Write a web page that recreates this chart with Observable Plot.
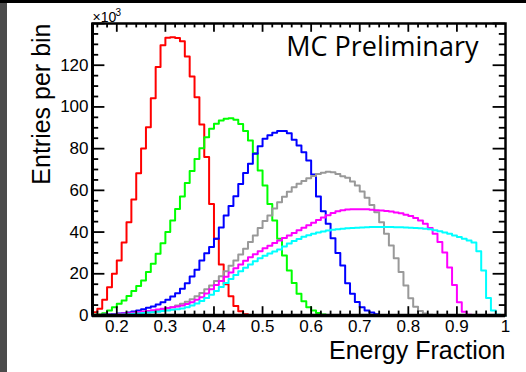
<!DOCTYPE html>
<html><head><meta charset="utf-8">
<script src="https://cdn.jsdelivr.net/npm/d3@7"></script>
<script src="https://cdn.jsdelivr.net/npm/@observablehq/plot@0.6"></script>
<style>
html,body{margin:0;padding:0;background:#fff;}
#wrap{position:relative;width:526px;height:372px;overflow:hidden;background:#fff;}
#topbar{position:absolute;left:0;top:0;width:526px;height:3px;background:#000;}
#leftbar{position:absolute;left:0;top:0;width:7px;height:372px;background:#4b4b4b;}
</style></head><body>
<div id="wrap"><div id="chart"></div><div id="leftbar"></div><div id="topbar"></div></div>
<script>
// histogram binning (x axis: Energy Fraction)
const binLow = 0.15, binWidth = 0.01;

// entries per bin (x10^3), one value per bin starting at 0.15
const histRed = [1.6, 3.2, 7.6, 13.6, 20.0, 26.4, 35.0, 44.7, 55.6, 68.2, 80.1, 90.3, 104.2, 119.2, 129.6, 133.2, 133.4, 133.0, 131.5, 124.2, 114.6, 104.7, 91.6, 76.0, 53.5, 36.8, 24.4, 15.0, 9.2, 4.6, 2.0, 0.6, 0.1];
const histGreen = [0.3, 0.5, 1.1, 2.4, 4.0, 5.6, 7.2, 9.3, 11.7, 14.1, 16.8, 20.8, 24.8, 29.6, 34.7, 40.0, 45.5, 51.1, 57.0, 63.5, 69.3, 75.0, 80.2, 85.5, 89.5, 91.9, 93.5, 94.3, 94.6, 93.8, 91.8, 88.5, 83.9, 77.8, 69.5, 62.3, 53.5, 45.5, 36.8, 28.8, 21.6, 15.6, 10.4, 6.8, 4.0, 2.4, 1.2, 0.5, 0.2];
const histBlue = [0.1, 0.2, 0.3, 0.5, 0.7, 0.9, 1.1, 1.4, 1.9, 2.4, 3.0, 3.7, 4.3, 5.3, 6.4, 7.5, 9.1, 10.7, 12.8, 15.5, 18.7, 21.9, 26.4, 29.9, 32.8, 36.8, 42.2, 47.9, 52.5, 57.2, 63.1, 68.3, 72.7, 77.5, 81.2, 84.8, 86.4, 87.6, 88.5, 88.5, 87.4, 84.3, 81.5, 78.3, 74.3, 67.6, 57.0, 50.0, 44.0, 37.0, 30.0, 24.0, 15.5, 10.4, 6.5, 4.0, 2.4, 1.4, 0.6, 0.2];
const histGray = [0.0, 0.1, 0.1, 0.2, 0.3, 0.4, 0.5, 0.6, 0.8, 1.0, 1.2, 1.5, 1.9, 2.3, 2.8, 3.4, 4.0, 4.8, 5.6, 6.6, 7.8, 9.2, 10.8, 12.6, 14.4, 16.6, 18.8, 21.2, 23.8, 26.4, 29.2, 32.0, 35.2, 38.4, 42.0, 45.3, 47.9, 51.3, 54.3, 56.9, 59.3, 61.5, 63.2, 64.5, 65.8, 66.9, 67.9, 68.5, 68.9, 68.7, 67.8, 66.8, 66.0, 64.3, 62.3, 59.5, 56.4, 53.0, 49.5, 44.7, 39.2, 33.6, 27.5, 20.8, 14.4, 8.3, 4.2, 2.2, 0.9, 0.3];
const histMagenta = [0.1, 0.2, 0.3, 0.4, 0.5, 0.7, 0.9, 1.1, 1.3, 1.6, 1.9, 2.2, 2.5, 2.9, 3.2, 3.6, 3.9, 4.3, 4.8, 5.5, 6.4, 7.5, 8.8, 10.6, 12.6, 14.6, 16.6, 18.6, 20.6, 22.6, 24.5, 26.3, 27.9, 29.4, 30.8, 32.2, 33.5, 34.8, 36.0, 37.2, 38.4, 39.6, 40.9, 42.1, 43.3, 44.5, 45.8, 47.0, 48.1, 49.2, 50.0, 50.5, 50.8, 51.0, 51.0, 51.0, 50.9, 50.7, 50.5, 50.3, 50.1, 49.9, 49.4, 49.0, 48.3, 47.7, 46.8, 45.5, 44.0, 42.0, 39.2, 35.2, 30.2, 23.0, 14.6, 6.4, 1.8, 0.3];
const histCyan = [0.0, 0.1, 0.1, 0.2, 0.3, 0.4, 0.5, 0.6, 0.8, 1.0, 1.2, 1.4, 1.6, 1.8, 2.1, 2.4, 2.7, 3.0, 3.3, 4.0, 4.8, 5.8, 7.0, 8.4, 10.0, 11.8, 13.7, 15.6, 17.5, 19.4, 21.2, 22.9, 24.5, 26.0, 27.4, 28.6, 29.7, 30.7, 31.7, 33.1, 34.5, 35.7, 36.7, 37.7, 38.5, 39.2, 39.8, 40.3, 40.7, 41.1, 41.4, 41.6, 41.8, 42.0, 42.1, 42.2, 42.3, 42.4, 42.4, 42.4, 42.4, 42.4, 42.3, 42.3, 42.2, 42.1, 42.0, 41.8, 41.6, 41.3, 40.9, 40.4, 39.8, 39.2, 38.4, 37.6, 36.8, 36.0, 35.0, 30.8, 21.6, 8.4, 2.4, 0.3, 0.0];

const seriesNames = ["h1", "h2", "h3", "h4", "h5", "h6"];
const seriesValues = [histRed, histGreen, histBlue, histGray, histMagenta, histCyan];
const seriesColors = ["#ff0000", "#00ff00", "#0000ff", "#999999", "#ff00ff", "#00ffff"];

const xTickValues = [0.2, 0.3, 0.4, 0.5, 0.6, 0.7, 0.8, 0.9, 1.0];
const xTickLabels = ["0.2", "0.3", "0.4", "0.5", "0.6", "0.7", "0.8", "0.9", "1"];
const yTickValues = [0, 20, 40, 60, 80, 100, 120];
const yTickLabels = ["0", "20", "40", "60", "80", "100", "120"];
const yMajor = [0, 20, 40, 60, 80, 100, 120, 140];

const xTitle = "Energy Fraction";
const yTitle = "Entries per bin";
const yExpBase = "×10";
const yExpPower = "3";
const note = "MC Preliminary";

// layout
const W = 526, H = 372, mL = 92, mR = 21, mT = 23, mB = 57;
const fw = W - mL - mR, fh = H - mT - mB;

// step rows
const rows = [];
seriesValues.forEach((vals, s) => {
  vals.forEach((v, i) => rows.push({series: seriesNames[s], x: binLow + i * binWidth, y: v}));
  rows.push({series: seriesNames[s], x: binLow + vals.length * binWidth, y: vals[vals.length - 1]});
});

const xMinor = d3.range(16, 100, 2).map(d => d / 100).filter(d => Math.round(d * 100) % 10 !== 0);
const yMinor = d3.range(5, 140, 5).filter(d => d % 20 !== 0);
const xMajorAll = [0.2, 0.3, 0.4, 0.5, 0.6, 0.7, 0.8, 0.9];

const xMajLen = 8.8, xMinLen = 4.4, yMajLen = 12.4, yMinLen = 6.2;
const tk = {stroke: "#000", strokeWidth: 1.8};

const chart = Plot.plot({
  width: W, height: H,
  marginLeft: mL, marginRight: mR, marginTop: mT, marginBottom: mB,
  style: {fontFamily: "'Liberation Sans', Arial, sans-serif", fontSize: "17px", background: "white", color: "black"},
  x: {domain: [0.15, 1.0]},
  y: {domain: [0, 140]},
  color: {type: "ordinal", domain: seriesNames, range: seriesColors},
  marks: [
    Plot.line(rows, {x: "x", y: "y", z: "series", stroke: "series", curve: "step-after", strokeWidth: 2}),
    // bottom & top ticks
    Plot.tickX(xMajorAll, {x: d => d, insetTop: fh - xMajLen, ...tk}),
    Plot.tickX(xMinor, {x: d => d, insetTop: fh - xMinLen, ...tk}),
    Plot.tickX(xMajorAll, {x: d => d, insetBottom: fh - xMajLen, ...tk}),
    Plot.tickX(xMinor, {x: d => d, insetBottom: fh - xMinLen, ...tk}),
    // left & right ticks
    Plot.tickY(yMajor, {y: d => d, insetRight: fw - yMajLen, ...tk}),
    Plot.tickY(yMinor, {y: d => d, insetRight: fw - yMinLen, ...tk}),
    Plot.tickY(yMajor, {y: d => d, insetLeft: fw - yMajLen, ...tk}),
    Plot.tickY(yMinor, {y: d => d, insetLeft: fw - yMinLen, ...tk}),
    Plot.frame({stroke: "#000", strokeWidth: 2.5}),
    Plot.ruleY([0], {stroke: "#000", strokeWidth: 3.5}),
    Plot.ruleX([0.15], {stroke: "#000", strokeWidth: 3}),
    Plot.axisX({ticks: xTickValues, tickFormat: d => xTickLabels[xTickValues.indexOf(d)], tickSize: 0, tickPadding: 4, fontSize: 17, label: null}),
    Plot.axisY({ticks: yTickValues, tickFormat: d => yTickLabels[yTickValues.indexOf(d)], tickSize: 0, tickPadding: 4, fontSize: 17, label: null}),
    Plot.text([yExpBase], {text: d => d, frameAnchor: "top-left", textAnchor: "start", lineAnchor: "bottom", dy: -2, fontSize: 14}),
    Plot.text([yExpPower], {text: d => d, frameAnchor: "top-left", textAnchor: "start", lineAnchor: "bottom", dx: 23, dy: -8, fontSize: 10}),
    Plot.text([yTitle], {text: d => d, frameAnchor: "top-left", rotate: -90, textAnchor: "end", lineAnchor: "bottom", dx: -43, fontSize: 25}),
    Plot.text([xTitle], {text: d => d, frameAnchor: "bottom-right", textAnchor: "end", lineAnchor: "bottom", dy: 43, fontSize: 25}),
    Plot.text([note], {text: d => d, frameAnchor: "top-right", textAnchor: "end", lineAnchor: "bottom", dx: -27, dy: 32, fontSize: 27, fontFamily: "'Open Sans', sans-serif"})
  ]
});
document.getElementById("chart").appendChild(chart);
</script>
</body></html>
